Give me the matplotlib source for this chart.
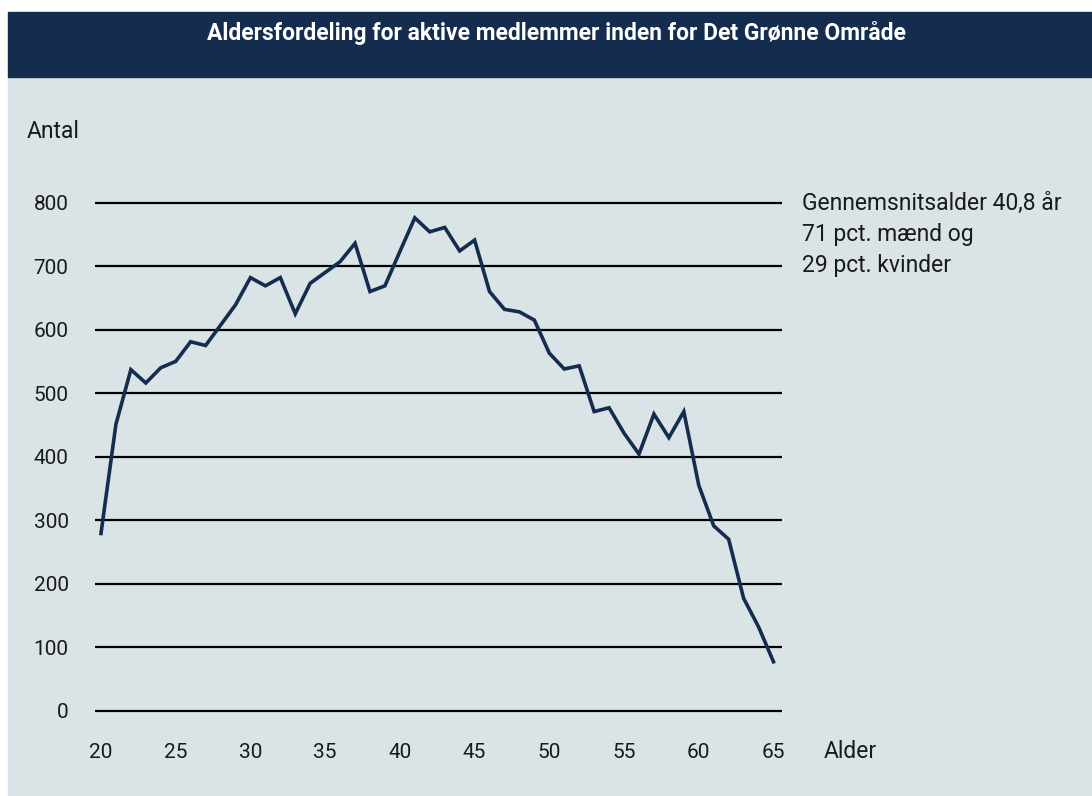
import matplotlib.pyplot as plt
from matplotlib.patches import Rectangle

# Age distribution of active members
ages = list(range(20, 66))
members = [279, 451, 537, 516, 540, 550, 581, 575, 607, 639,
           682, 669, 682, 625, 673, 690, 707, 736, 660, 669,
           723, 776, 754, 761, 724, 741, 660, 632, 628, 615,
           563, 538, 543, 471, 477, 437, 404, 467, 430, 471,
           355, 291, 270, 177, 132, 77]

y_ticks = [0, 100, 200, 300, 400, 500, 600, 700, 800]
x_ticks = [20, 25, 30, 35, 40, 45, 50, 55, 60, 65]
title = 'Aldersfordeling for aktive medlemmer inden for Det Grønne Område'
note_lines = ['Gennemsnitsalder 40,8 år', '71 pct. mænd og', '29 pct. kvinder']

navy = '#142d4f'
panel = '#dae3e6'
W, H = 1092, 796

plt.rcParams['font.family'] = ['Roboto', 'DejaVu Sans']

fig = plt.figure(figsize=(W / 100, H / 100), dpi=100)
fig.patch.set_facecolor('white')

# header band and panel background
fig.patches.append(Rectangle((8 / W, 0), 1 - 8 / W, 1 - 77 / H,
                             transform=fig.transFigure, color=panel, zorder=-2))
fig.patches.append(Rectangle((8 / W, 1 - 77 / H), 1 - 8 / W, 65 / H,
                             transform=fig.transFigure, color=navy, zorder=-2))
fig.text(556 / W, 1 - 33 / H, title, color='white', fontsize=16.5,
         fontweight='bold', ha='center', va='center')

ax = fig.add_axes([95 / W, (H - 717) / H, 687 / W, 520.7 / H])
ax.set_zorder(2)
ax.set_facecolor('none')
ax.set_xlim(19.6, 65.57)
ax.set_ylim(-10, 810)

for v in y_ticks:
    ax.axhline(v, color='black', lw=1.6, zorder=1)

ax.plot(ages, members, color=navy, lw=2.6, solid_joinstyle='miter', zorder=3)

ax.set_yticks(y_ticks)
ax.set_xticks(x_ticks)
ax.tick_params(length=0, labelsize=15, colors='#1a1a1a')
ax.tick_params(axis='y', pad=19)
ax.tick_params(axis='x', pad=19)
for s in ax.spines.values():
    s.set_visible(False)

fig.text(27 / W, 1 - 132 / H, 'Antal', fontsize=16.5, color='#1a1a1a', va='center')
fig.text(824 / W, 1 - 752 / H, 'Alder', fontsize=16.5, color='#1a1a1a', va='center')
for i, line in enumerate(note_lines):
    fig.text(802 / W, 1 - (203 + 31 * i) / H, line, fontsize=16.5,
             color='#1a1a1a', va='center')

fig.savefig('out.png', dpi=100)
